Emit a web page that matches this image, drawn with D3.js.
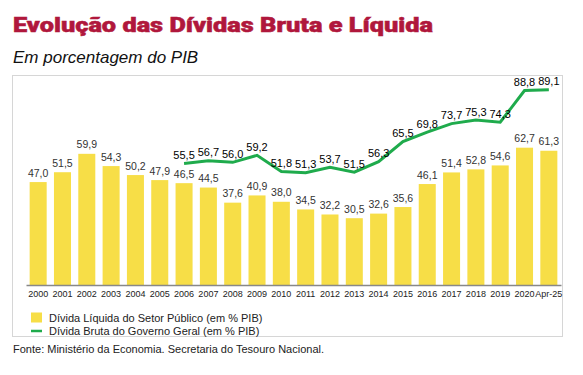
<!DOCTYPE html>
<html>
<head>
<meta charset="utf-8">
<script src="https://cdn.jsdelivr.net/npm/d3@7"></script>
<style>
  body { margin: 0; background: #fff; }
  svg { display: block; font-family: "Liberation Sans", Arial, sans-serif; }
</style>
</head>
<body>
<div id="graphic"></div>
<script>
// categories and series
const years = ['2000', '2001', '2002', '2003', '2004', '2005', '2006', '2007', '2008', '2009', '2010',
	'2011', '2012', '2013', '2014', '2015', '2016', '2017', '2018', '2019', '2020', 'Apr-25'];
const dividaLiquida = [47.0, 51.5, 59.9, 54.3, 50.2, 47.9, 46.5, 44.5, 37.6, 40.9, 38.0,
	34.5, 32.2, 30.5, 32.6, 35.6, 46.1, 51.4, 52.8, 54.6, 62.7, 61.3];
const brutaYears = ['2006', '2007', '2008', '2009', '2010', '2011', '2012', '2013', '2014', '2015',
	'2016', '2017', '2018', '2019', '2020', 'Apr-25'];
const dividaBruta = [55.5, 56.7, 56.0, 59.2, 51.8, 51.3, 53.7, 51.5, 56.3, 65.5,
	69.8, 73.7, 75.3, 74.3, 88.8, 89.1];
const legendLabels = ['Dívida Líquida do Setor Público (em % PIB)', 'Dívida Bruta do Governo Geral (em % PIB)'];

const width = 583, height = 375;
const colourBar = '#f7de47';
const colourLine = '#1fab4c';

const svg = d3.select('#graphic').append('svg')
	.attr('width', width)
	.attr('height', height);

// title and subtitle
svg.append('text')
	.attr('x', 13)
	.attr('y', 32)
	.attr('fill', '#b0173c')
	.attr('stroke', '#b0173c')
	.attr('stroke-width', 0.5)
	.style('font-family', 'Roboto, sans-serif')
	.style('font-weight', 900)
	.style('font-size', '20px')
	.attr('textLength', 420)
	.attr('lengthAdjust', 'spacingAndGlyphs')
	.text('Evolução das Dívidas Bruta e Líquida');

svg.append('text')
	.attr('x', 13)
	.attr('y', 63)
	.attr('fill', '#111')
	.style('font-style', 'italic')
	.style('font-size', '17px')
	.text('Em porcentagem do PIB');

// frame
svg.append('rect')
	.attr('x', 12.5)
	.attr('y', 75.5)
	.attr('width', 550)
	.attr('height', 261)
	.attr('fill', 'none')
	.attr('stroke', '#d6d6d6')
	.attr('stroke-width', 1);

// scales
const x = d3.scaleBand()
	.domain(years)
	.range([26, 561])
	.paddingInner(0.3)
	.paddingOuter(0.15);

const y = d3.scaleLinear()
	.domain([0, 100])
	.range([285, 66]);

// bars
svg.append('g')
	.selectAll('rect')
	.data(years)
	.join('rect')
	.attr('x', d => x(d))
	.attr('y', (d, i) => y(dividaLiquida[i]))
	.attr('width', x.bandwidth())
	.attr('height', (d, i) => y(0) - y(dividaLiquida[i]))
	.attr('fill', colourBar);

// bar labels
svg.append('g')
	.selectAll('text')
	.data(years)
	.join('text')
	.attr('x', d => x(d) + x.bandwidth() / 2)
	.attr('y', (d, i) => y(dividaLiquida[i]) - 5.5)
	.attr('text-anchor', 'middle')
	.attr('fill', '#333')
	.style('font-size', '10.5px')
	.text((d, i) => d3.format('.1f')(dividaLiquida[i]).replace('.', ','));

// x axis
const xAxis = d3.axisBottom(x).tickSize(0).tickPadding(6);
const gx = svg.append('g')
	.attr('transform', `translate(0,${y(0)})`)
	.call(xAxis);
gx.select('.domain').attr('stroke', '#888').attr('stroke-width', 1.5);
gx.selectAll('text')
	.attr('fill', '#222')
	.style('font-size', '9px')
	.style('font-family', '"Liberation Sans", Arial, sans-serif');

// line
const line = d3.line()
	.x((d, i) => x(brutaYears[i]) + x.bandwidth() / 2)
	.y(d => y(d));

svg.append('path')
	.datum(dividaBruta)
	.attr('d', line)
	.attr('fill', 'none')
	.attr('stroke', colourLine)
	.attr('stroke-width', 3)
	.attr('stroke-linejoin', 'miter');

svg.append('g')
	.selectAll('text')
	.data(dividaBruta)
	.join('text')
	.attr('x', (d, i) => x(brutaYears[i]) + x.bandwidth() / 2)
	.attr('y', d => y(d) - 4.5)
	.attr('text-anchor', 'middle')
	.attr('fill', '#000')
	.style('font-size', '11px')
	.text(d => d3.format('.1f')(d).replace('.', ','));

// legend
const legend = svg.append('g');
legend.append('rect')
	.attr('x', 31)
	.attr('y', 312.5)
	.attr('width', 11)
	.attr('height', 10)
	.attr('fill', colourBar);
legend.append('line')
	.attr('x1', 31)
	.attr('x2', 42)
	.attr('y1', 331)
	.attr('y2', 331)
	.attr('stroke', colourLine)
	.attr('stroke-width', 2.5);
legend.selectAll('text')
	.data(legendLabels)
	.join('text')
	.attr('x', 49)
	.attr('y', (d, i) => 322 + i * 13)
	.attr('fill', '#222')
	.style('font-size', '11px')
	.text(d => d);

// source
svg.append('text')
	.attr('x', 13)
	.attr('y', 353)
	.attr('fill', '#222')
	.style('font-size', '11px')
	.text('Fonte: Ministério da Economia. Secretaria do Tesouro Nacional.');
</script>
</body>
</html>
